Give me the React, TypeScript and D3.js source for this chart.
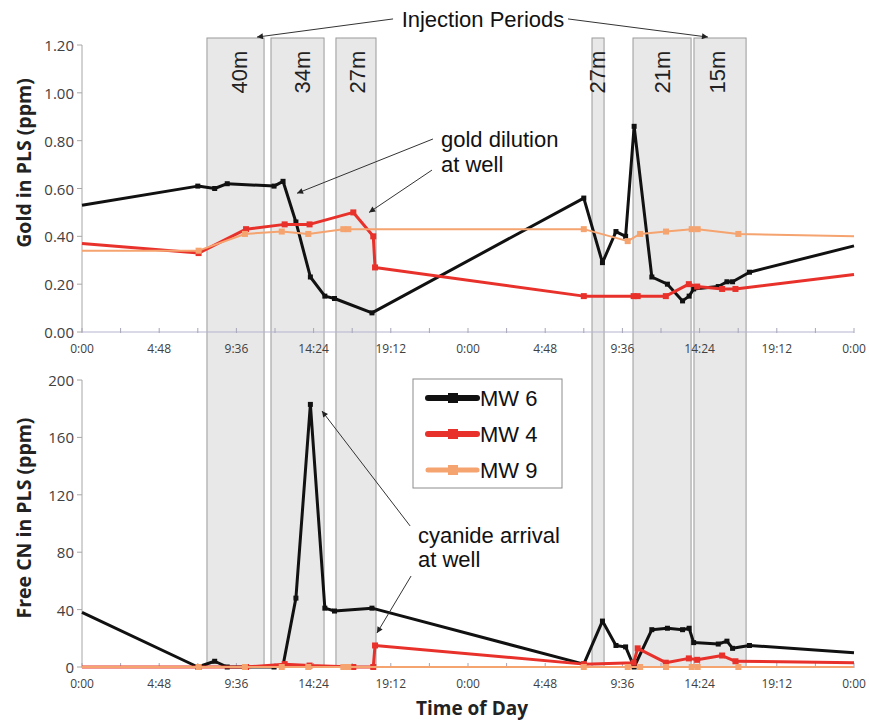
import React, { useRef, useEffect } from 'react'
import * as d3 from 'd3'

// sample times, hours after 0:00 on the first day (two days shown)
const mw6Hours = [0, 7.2, 8.25, 9.03, 11.94, 12.5, 13.3, 14.2, 15.1, 15.7, 18.03, 31.2, 32.36, 33.2, 33.8, 34.33, 35.43, 36.4, 37.34, 37.75, 38.03, 39.56, 40.1, 40.45, 41.5, 48]
const mw6Gold = [0.53, 0.61, 0.60, 0.62, 0.61, 0.63, 0.46, 0.23, 0.15, 0.14, 0.08, 0.56, 0.29, 0.42, 0.40, 0.86, 0.23, 0.20, 0.13, 0.15, 0.18, 0.19, 0.21, 0.21, 0.25, 0.36]
const mw6CN = [38, 0, 4, 0, 0, 1, 48, 183, 41, 39, 41, 2, 32, 15, 14, 0, 26, 27, 26, 27, 17, 16, 18, 13, 15, 10]

const mw4Hours = [0, 7.25, 10.2, 12.6, 14.15, 16.87, 18.11, 18.22, 31.2, 34.3, 34.55, 36.3, 37.73, 38.25, 39.8, 40.63, 48]
const mw4Gold = [0.37, 0.33, 0.43, 0.45, 0.45, 0.50, 0.40, 0.27, 0.15, 0.15, 0.15, 0.15, 0.20, 0.19, 0.18, 0.18, 0.24]
const mw4CN = [0, 0, 0, 2, 1, 0, 0, 15, 2, 3, 13, 3, 6, 5, 8, 4, 3]

const mw9Hours = [0, 7.25, 10.13, 12.42, 14.07, 16.25, 16.56, 31.2, 33.93, 34.7, 36.31, 37.91, 38.28, 40.81, 48]
const mw9Gold = [0.34, 0.34, 0.41, 0.42, 0.41, 0.43, 0.43, 0.43, 0.38, 0.41, 0.42, 0.43, 0.43, 0.41, 0.40]
const mw9CN = [0, 0, 0, 0, 0, 0, 0, 0, 0, 0, 0, 0, 0, 0, 0]

// injection periods
const bandStart = [7.77, 11.75, 15.79, 31.71, 34.26, 38.05]
const bandEnd = [11.32, 15.05, 18.28, 32.46, 37.87, 41.29]
const bandLabels = ['40m', '34m', '27m', '27m', '21m', '15m']
const bandLabelHours = [9.82, 13.74, 17.16, 32.08, 36.12, 39.54]

const goldTicks = [0, 0.2, 0.4, 0.6, 0.8, 1.0, 1.2]
const cnTicks = [0, 40, 80, 120, 160, 200]

const series = [
  { name: 'MW 6', color: '#111111', width: 3, size: 5, hours: mw6Hours, gold: mw6Gold, cn: mw6CN },
  { name: 'MW 4', color: '#e8312a', width: 3, size: 6, hours: mw4Hours, gold: mw4Gold, cn: mw4CN },
  { name: 'MW 9', color: '#f5a36f', width: 2, size: 6, hours: mw9Hours, gold: mw9Gold, cn: mw9CN },
]

const sans = 'Open Sans, sans-serif'
const arial = 'Liberation Sans, Arial, sans-serif'

const fmtHour = (h: number) => {
  const t = Math.round(h * 60) % (24 * 60)
  return `${Math.floor(t / 60)}:${String(t % 60).padStart(2, '0')}`
}

export default function App() {
  const svgRef = useRef<SVGSVGElement>(null)

  useEffect(() => {
    const width = 869
    const height = 724
    const svg = d3.select(svgRef.current)
    svg.selectAll('*').remove()
    svg.attr('viewBox', `0 0 ${width} ${height}`)

    const x = d3.scaleLinear().domain([0, 48]).range([82, 854])
    const yGold = d3.scaleLinear().domain([0, 1.2]).range([332, 45])
    const yCN = d3.scaleLinear().domain([0, 200]).range([667, 380])

    const defs = svg.append('defs')
    defs.append('marker')
      .attr('id', 'arr')
      .attr('viewBox', '0 0 10 10')
      .attr('refX', 10).attr('refY', 5)
      .attr('markerWidth', 9).attr('markerHeight', 6)
      .attr('markerUnits', 'userSpaceOnUse')
      .attr('orient', 'auto')
      .append('path').attr('d', 'M0,0 L10,5 L0,10 z').attr('fill', '#222')

    // injection period bands, spanning both panels
    const bandTop = yGold(1.2) - 7
    bandStart.forEach((s, i) => {
      svg.append('rect')
        .attr('x', x(s)).attr('y', bandTop)
        .attr('width', x(bandEnd[i]) - x(s))
        .attr('height', yCN(0) - bandTop)
        .attr('fill', '#e8e8e8')
        .attr('stroke', '#9a9a9a')
        .attr('stroke-width', 1)
      svg.append('text')
        .attr('transform', `translate(${x(bandLabelHours[i])},${yGold(1.087)}) rotate(-90)`)
        .attr('text-anchor', 'middle')
        .attr('dominant-baseline', 'central')
        .attr('font-family', arial)
        .attr('font-size', 22)
        .attr('fill', '#222')
        .text(bandLabels[i])
    })

    const xTicks = d3.range(0, 21).map(i => i * 2.4)

    const drawPanel = (y: d3.ScaleLinear<number, number>, ticks: number[], fmt: (d: number) => string, key: 'gold' | 'cn', title: string, titleY: number) => {
      // y axis
      svg.append('line')
        .attr('x1', x(0)).attr('x2', x(0))
        .attr('y1', y.range()[1]).attr('y2', y.range()[0])
        .attr('stroke', '#a6a6a6')
      ticks.forEach(t => {
        svg.append('line')
          .attr('x1', x(0) - 5).attr('x2', x(0))
          .attr('y1', y(t)).attr('y2', y(t))
          .attr('stroke', '#a6a6a6')
        svg.append('text')
          .attr('x', x(0) - 8).attr('y', y(t))
          .attr('text-anchor', 'end')
          .attr('dominant-baseline', 'central')
          .attr('font-family', sans)
          .attr('font-size', 15)
          .attr('fill', '#404040')
          .text(fmt(t))
      })
      // x axis
      const base = y(0)
      svg.append('line')
        .attr('x1', x(0)).attr('x2', x(48))
        .attr('y1', base).attr('y2', base)
        .attr('stroke', '#b3b3cf')
      xTicks.forEach((t, i) => {
        svg.append('line')
          .attr('x1', x(t)).attr('x2', x(t))
          .attr('y1', base - 4).attr('y2', base + 1)
          .attr('stroke', '#a6a6b8')
        if (i % 2 === 0) {
          svg.append('text')
            .attr('x', x(t)).attr('y', base + 21)
            .attr('text-anchor', 'middle')
            .attr('font-family', sans)
            .attr('font-size', 12)
            .attr('fill', '#404040')
            .text(fmtHour(t))
        }
      })
      svg.append('text')
        .attr('transform', `translate(23,${titleY}) rotate(-90)`)
        .attr('text-anchor', 'middle')
        .attr('dominant-baseline', 'central')
        .attr('font-family', sans)
        .attr('font-weight', 'bold')
        .attr('font-size', 19.5)
        .attr('fill', '#222')
        .text(title)

      series.forEach(s => {
        const pts = s.hours.map((h, i) => [h, s[key][i]] as [number, number])
        const line = d3.line<[number, number]>().x(d => x(d[0])).y(d => y(d[1]))
        svg.append('path')
          .datum(pts)
          .attr('d', line)
          .attr('fill', 'none')
          .attr('stroke', s.color)
          .attr('stroke-width', s.width)
          .attr('stroke-linejoin', 'round')
        svg.append('g')
          .selectAll('rect')
          .data(pts.filter(d => d[0] > 0 && d[0] < 48))
          .join('rect')
          .attr('x', d => x(d[0]) - s.size / 2)
          .attr('y', d => y(d[1]) - s.size / 2)
          .attr('width', s.size).attr('height', s.size)
          .attr('fill', s.color)
      })
    }

    drawPanel(yGold, goldTicks, d3.format('.2f'), 'gold', 'Gold in PLS (ppm)', 163)
    drawPanel(yCN, cnTicks, d3.format('d'), 'cn', 'Free CN in PLS (ppm)', 518)

    svg.append('text')
      .attr('x', 472).attr('y', 715)
      .attr('text-anchor', 'middle')
      .attr('font-family', sans)
      .attr('font-weight', 'bold')
      .attr('font-size', 19)
      .attr('fill', '#222')
      .text('Time of Day')

    // annotations
    const note = (lines: string[], h: number, yy: number, dy: number) => {
      lines.forEach((l, i) => {
        svg.append('text')
          .attr('x', x(h)).attr('y', yy + i * dy)
          .attr('font-family', arial)
          .attr('font-size', 22)
          .attr('fill', '#111')
          .text(l)
      })
    }
    const arrow = (x1: number, y1: number, x2: number, y2: number) => {
      svg.append('line')
        .attr('x1', x1).attr('y1', y1).attr('x2', x2).attr('y2', y2)
        .attr('stroke', '#333').attr('stroke-width', 1)
        .attr('marker-end', 'url(#arr)')
    }

    svg.append('text')
      .attr('x', x(24.93)).attr('y', yGold(1.275))
      .attr('text-anchor', 'middle')
      .attr('font-family', arial)
      .attr('font-size', 22)
      .attr('fill', '#111')
      .text('Injection Periods')
    arrow(x(19.34), yGold(1.309), x(10.88), yGold(1.233))
    arrow(x(30.22), yGold(1.309), x(38.92), yGold(1.233))

    note(['gold dilution', 'at well'], 22.32, yGold(0.773), 25)
    arrow(x(21.82), yGold(0.807), x(13.37), yGold(0.58))
    arrow(x(21.76), yGold(0.677), x(17.85), yGold(0.50))

    note(['cyanide arrival', 'at well'], 20.89, yCN(86.4), 24)
    arrow(x(20.4), yCN(98.3), x(14.92), yCN(178.4))
    arrow(x(20.46), yCN(63.4), x(18.34), yCN(23.7))

    // legend
    const lg = svg.append('g').attr('transform', 'translate(413,379)')
    lg.append('rect')
      .attr('width', 149).attr('height', 109)
      .attr('fill', '#fff').attr('stroke', '#8c8c8c')
    series.forEach((s, i) => {
      const cy = 19 + i * 36
      lg.append('line')
        .attr('x1', 15).attr('x2', 64)
        .attr('y1', cy).attr('y2', cy)
        .attr('stroke', s.color)
        .attr('stroke-width', s.width + 3)
        .attr('stroke-linecap', 'round')
      lg.append('rect')
        .attr('x', 35).attr('y', cy - 5)
        .attr('width', 10).attr('height', 10)
        .attr('fill', s.color)
      lg.append('text')
        .attr('x', 67).attr('y', cy + 8)
        .attr('font-family', arial)
        .attr('font-size', 22)
        .attr('fill', '#111')
        .text(s.name)
    })
  }, [])

  return (
    <svg
      ref={svgRef}
      width={869}
      height={724}
      style={{ position: 'absolute', left: 0, top: 0, background: '#fff' }}
    />
  )
}
